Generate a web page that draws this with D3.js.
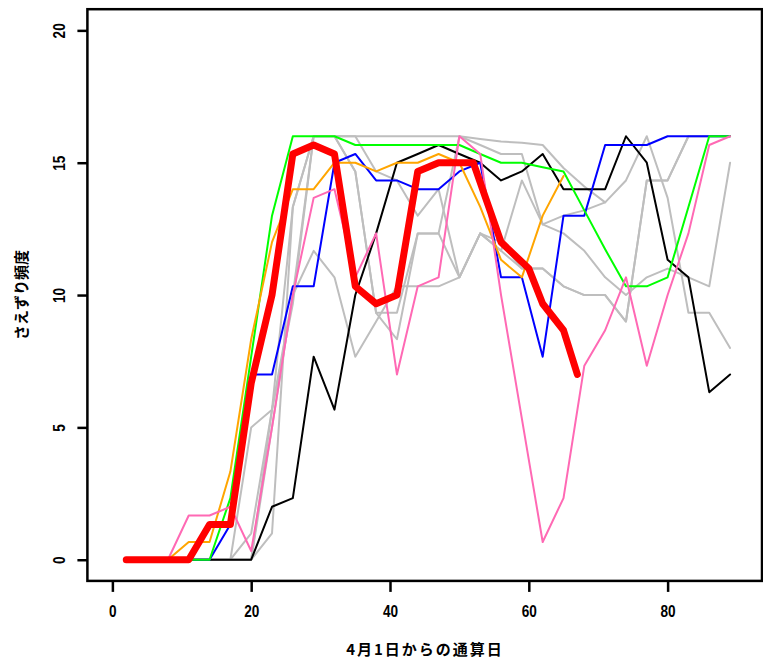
<!DOCTYPE html>
<html><head><meta charset="utf-8">
<script src="https://cdn.jsdelivr.net/npm/d3@7"></script>
<style>html,body{margin:0;padding:0;background:#fff;}svg{display:block;}</style>
</head><body>
<script>
// ---- data ----
const days = [2,5,8,11,14,17,20,23,26,29,32,35,38,41,44,47,50,53,56,59,62,65,68,71,74,77,80,83,86,89];
const gray1 = [0,0,0,0,0,0,1,5.67,13.33,16,16,16,16,16,16,16,16,15.9,15.8,15.75,15.67,14.8,14.1,13.5,14.33,16,13.67,9.33,9.33,8];
const gray2 = [0,0,0,0,0,0,5,5.67,9.67,16,16,16,14.67,14.33,13,14,10.67,12.33,11.67,14.33,12.67,13,13.2,13.5,null,null,null,null,null,null];
const gray3 = [0,0,0,0,0,0,0,5,10,16,16,14.67,9.33,8.33,12.33,12.33,16,15.67,15.33,15.33,12.67,12.33,11.67,10.67,10,10.67,11,10.67,10.33,15];
const gray4 = [0,0,0,0,0,0,0,5.67,10,11.67,10.67,7.67,9,10.33,10.33,10.33,10.67,12.33,12,11,11,10.33,10,10,9,14.33,14.33,16,16,16];
const gray5 = [0,0,0,0,0,0,0,1,13.33,16,16,14.67,9.33,9.33,12.33,12.33,10.67,12.33,11.67,11,11,10.33,10,10,9,14.33,14.33,16,16,16];
const black = [0,0,0,0,0,0,0,2,2.33,7.67,5.67,10,12.33,15,15.33,15.67,15.33,15,14.33,14.67,15.33,14,14,14,16,15,11.33,10.67,6.33,7];
const blue = [0,0,0,0,0,1.33,7,7,10.33,10.33,15,15.33,14.33,14.33,14,14,14.67,15,10.67,10.67,7.67,13,13,15.67,15.67,15.67,16,16,16,16];
const green = [0,0,0,0,0,2.33,7.67,13,16,16,16,15.67,15.67,15.67,15.67,15.67,15.67,15.33,15,15,14.83,14.67,13.2,11.73,10.33,10.33,10.67,13.33,16,16];
const orange = [0,0,0,0.67,0.67,3.33,8.33,12,14,14,15,15,14.67,15,15,15.33,15,13.33,11.33,10.67,13,14.5,null,null,null,null,null,null,null,null];
const pink = [0,0,0,1.67,1.67,2,0.33,5,10,13.67,14,10.67,12.33,7,10.33,10.67,16,15.33,10,5.33,0.67,2.33,7.33,8.67,10.67,7.33,10,12.33,15.67,16];
const redDays = [2,5,8,11,14,17,20,23,26,29,32,35,38,41,44,47,50,52,56,60,62,65,67];
const red = [0,0,0,0,1.33,1.33,6.67,10,15.33,15.67,15.33,10.33,9.67,10,14.67,15,15,15,12,11,9.67,8.67,7];
const xTicks = [0,20,40,60,80];
const yTicks = [0,5,10,15,20];
const xTitle = "4月1日からの通算日";
const yTitle = "さえずり頻度";

// ---- layout ----
const W = 763, H = 662;
const svg = d3.select("body").append("svg").attr("width", W).attr("height", H);
const x = d3.scaleLinear().domain([-3.6, 93.6]).range([87.4, 762]);
const y = d3.scaleLinear().domain([-0.8, 20.8]).range([580.9, 9.2]);

const series = [
  {d: days, v: gray1, c: "#bebebe", w: 2},
  {d: days, v: gray2, c: "#bebebe", w: 2},
  {d: days, v: gray3, c: "#bebebe", w: 2},
  {d: days, v: gray4, c: "#bebebe", w: 2},
  {d: days, v: gray5, c: "#bebebe", w: 2},
  {d: days, v: black, c: "#000000", w: 2},
  {d: days, v: blue, c: "#0000ff", w: 2},
  {d: days, v: green, c: "#00ff00", w: 2},
  {d: days, v: orange, c: "#ffa500", w: 2},
  {d: days, v: pink, c: "#ff69b4", w: 2},
  {d: redDays, v: red, c: "#ff0000", w: 7}
];
const line = d3.line().defined(p => p[1] != null).x(p => x(p[0])).y(p => y(p[1]));
const g = svg.append("g");
series.forEach(s => {
  const pts = s.d.map((d, i) => [d, s.v[i]]);
  g.append("path").attr("d", line(pts)).attr("fill", "none")
    .attr("stroke", s.c).attr("stroke-width", s.w)
    .attr("stroke-linejoin", "round").attr("stroke-linecap", "round");
});

// box
svg.append("rect").attr("x", 87.4).attr("y", 9.2).attr("width", 762 - 87.4).attr("height", 580.9 - 9.2)
  .attr("fill", "none").attr("stroke", "#000").attr("stroke-width", 2.5);

// axes
const xAxis = d3.axisBottom(x).tickValues(xTicks).tickSize(11).tickFormat(d3.format("d"));
const gx = svg.append("g").attr("transform", "translate(0,580.9)").call(xAxis);
gx.select(".domain").remove();
gx.selectAll(".tick line").attr("stroke", "#000").attr("stroke-width", 2.5);
gx.selectAll(".tick text").remove();
gx.selectAll(".tick").append("text")
  .attr("transform", "translate(0,36) scale(0.8,1)")
  .attr("text-anchor", "middle").attr("fill", "#000")
  .style("font-family", "'Liberation Sans', Arial, sans-serif").style("font-weight", "bold").style("font-size", "17px")
  .text(d => d);

const yAxis = d3.axisLeft(y).tickValues(yTicks).tickSize(10).tickFormat(d3.format("d"));
const gy = svg.append("g").attr("transform", "translate(87.4,0)").call(yAxis);
gy.select(".domain").remove();
gy.selectAll(".tick line").attr("stroke", "#000").attr("stroke-width", 2.5);
gy.selectAll(".tick text").remove();
gy.selectAll(".tick").append("text")
  .attr("transform", "translate(-22,0) rotate(-90) scale(0.8,1)")
  .attr("text-anchor", "middle").attr("fill", "#000")
  .style("font-family", "'Liberation Sans', Arial, sans-serif").style("font-weight", "bold").style("font-size", "17px")
  .text(d => d);

svg.append("text").attr("x", 425).attr("y", 655).attr("text-anchor", "middle")
  .style("font-family", "'Noto Sans CJK JP', sans-serif").style("font-weight", "bold").style("font-size", "15px")
  .style("letter-spacing", "2px")
  .text(xTitle);
svg.append("text").attr("transform", "translate(27,295) rotate(-90)").attr("text-anchor", "middle")
  .style("font-family", "'Noto Sans CJK JP', sans-serif").style("font-weight", "bold").style("font-size", "15px")
  .text(yTitle);
</script>
</body></html>
